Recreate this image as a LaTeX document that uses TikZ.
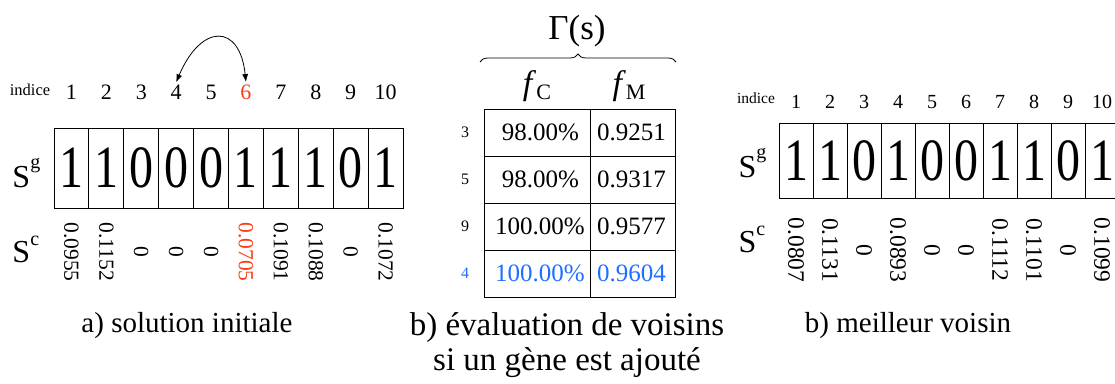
\documentclass[tikz,border=0pt]{standalone}
\usepackage{fontspec}
\setmainfont{Liberation Serif}
\newfontfamily\cellfont[FakeStretch=0.8]{Liberation Serif}
\usetikzlibrary{arrows.meta, decorations.pathreplacing}
\definecolor{moved}{RGB}{250, 60, 20}
\definecolor{best}{RGB}{30, 110, 255}
\newcommand{\fsz}[1]{\fontsize{#1}{#1}\selectfont}

\begin{document}
\begin{tikzpicture}[x=1pt, y=-1pt, line width=1pt,
        cell/.style={draw, minimum width=34.9pt, minimum height=80pt, inner sep=0pt, font=\cellfont\fsz{60}},
        idx/.style={inner sep=2pt, font=\fsz{22}},
        val/.style={rotate=-90, inner sep=0pt, font=\fsz{21.5}},
        lbl/.style={inner sep=0pt, anchor=base west, font=\fsz{32}},
        tab/.style={draw, minimum height=47pt, inner ysep=0pt, font=\fsz{25}},
        captxt/.style={align=center, font=\fontsize{29}{35}\selectfont}]
    \useasboundingbox (0,0) rectangle (1115,383);

    % a) solution initiale
    \node[inner sep=0pt, font=\fsz{16.5}] (aind) at (30,90) {indice};
    \foreach \b/\v/\c [count=\i] in {1/0.0955/black, 1/0.1152/black, 0/0/black, 0/0/black, 0/0/black,
                                     1/0.0705/moved, 1/0.1091/black, 1/0.1088/black, 0/0/black, 1/0.1072/black} {
        \node[idx, text=\c] (ai\i) at ({54+34.9*(\i-0.5)},92) {\i};
        \node[cell] (ag\i) at ({54+34.9*(\i-0.5)},168) {\b};
        \node[val, text=\c] (ac\i) at ({54+34.9*(\i-0.5)},252) {\v};
    }
    \node[lbl] (asg) at (12,187) {S\raisebox{19pt}{\fsz{20}g}};
    \node[lbl] (asc) at (12,262) {S\raisebox{17pt}{\fsz{20}c}};
    \draw[{Latex[length=8pt, width=6pt]}-{Latex[length=8pt, width=6pt]}, line width=0.8pt]
        (ai4.north) .. controls +(25,-59) and +(-6,-59) .. (ai6.north);
    \node[captxt] (capa) at (187,326) {a) solution initiale};

    % b) evaluation de voisins
    \node[inner sep=0pt, font=\fsz{35}] (gam) at (577,31) {Γ(s)};
    \coordinate (brl) at (480,62);
    \coordinate (brr) at (676,62);
    \draw[line width=0.8pt, decorate, decoration={brace, amplitude=8pt}] (brl) -- (brr);
    \node[inner sep=0pt, font=\fsz{34}] (fc) at (537,86) {\textit{f}\raisebox{-5pt}{\fsz{22}C}};
    \node[inner sep=0pt, font=\fsz{34}] (fm) at (629,86) {\textit{f}\raisebox{-5pt}{\fsz{22}M}};
    \foreach \r/\p/\m/\c [count=\j] in {3/98.00\%/0.9251/black, 5/98.00\%/0.9317/black,
                                        9/100.00\%/0.9577/black, 4/100.00\%/0.9604/best} {
        \node[inner sep=0pt, font=\fsz{16}, text=\c] (br\j) at (465,{85.5+47*\j}) {\r};
        \node[tab, text=\c, inner xsep=11pt, text width=84pt, align=right] (bc\j) at (537,{85.5+47*\j}) {\p};
        \node[tab, text=\c, inner xsep=7pt, text width=71pt, align=left] (bm\j) at (632.5,{85.5+47*\j}) {\m};
    }
    \node[captxt, font=\fontsize{33}{35}\selectfont] (capb) at (567,345) {b) évaluation de voisins\\si un gène est ajouté};

    % b) meilleur voisin
    \node[inner sep=0pt, font=\fsz{15.5}] (cind) at (756,98) {indice};
    \foreach \b/\v [count=\i] in {1/0.0807, 1/0.1131, 0/0, 1/0.0893, 0/0,
                                  0/0, 1/0.1112, 1/0.1101, 0/0, 1/0.1099} {
        \node[idx, font=\fsz{20}] (ci\i) at ({779+34*(\i-0.5)},102) {\i};
        \node[cell, minimum width=34pt, minimum height=75pt] (cg\i) at ({779+34*(\i-0.5)},160.5) {\b};
        \node[val, font=\fsz{23.5}] (cc\i) at ({779+34*(\i-0.5)},250) {\v};
    }
    \node[lbl] (csg) at (738,177) {S\raisebox{19pt}{\fsz{20}g}};
    \node[lbl] (csc) at (738,252) {S\raisebox{17pt}{\fsz{20}c}};
    \node[captxt] (capc) at (908,326) {b) meilleur voisin};
\end{tikzpicture}
\end{document}
